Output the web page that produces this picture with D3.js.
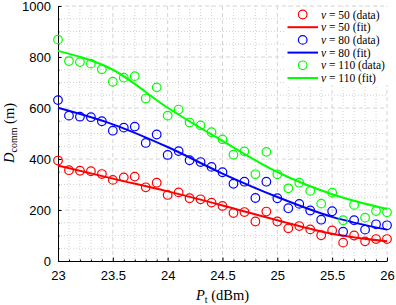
<!DOCTYPE html>
<html>
<head>
<meta charset="utf-8">
<script src="https://cdn.jsdelivr.net/npm/d3@7"></script>
<style>
  body { margin: 0; background: #fff; }
  svg { display: block; }
  .tick text { font-family: "Liberation Sans", Arial, sans-serif; font-size: 13px; fill: #000; }
  .domain { stroke: #000; stroke-width: 1; }
  .tick line { stroke: #000; }
  .lbl { font-family: "Liberation Serif", "DejaVu Serif", serif; fill: #000; }
</style>
</head>
<body>
<svg id="chart" width="396" height="305"></svg>
<script>
// measured powers (dBm)
const ptData = [23, 23.1, 23.2, 23.3, 23.4, 23.5, 23.6, 23.7, 23.8, 23.9, 24, 24.1, 24.2, 24.3, 24.4,
  24.5, 24.6, 24.7, 24.8, 24.9, 25, 25.1, 25.2, 25.3, 25.4, 25.5, 25.6, 25.7, 25.8, 25.9, 26];
const d50 = [394, 356, 354, 352, 341, 318, 328, 331, 289, 307, 259, 269, 246, 242, 229,
  216, 188, 192, 155, 194, 155, 128, 137, 124, 101, 120, 72, 100, 77, 86, 86];
const d80 = [631, 570, 566, 564, 548, 511, 523, 527, 463, 496, 416, 431, 395, 388, 369,
  348, 303, 311, 247, 311, 246, 207, 224, 198, 162, 195, 115, 160, 123, 144, 140];
const d110 = [868, 784, 780, 774, 752, 703, 719, 725, 637, 681, 570, 594, 543, 532, 505,
  477, 417, 430, 340, 428, 340, 285, 307, 275, 225, 268, 160, 220, 170, 196, 191];
// fitted curves
const ptFit = [23, 23.5, 24, 24.5, 25, 25.5, 26];
const fit50 = [374, 323, 273, 218, 160, 107, 77];
const fit80 = [601, 536, 447, 343, 251, 173, 123];
const fit110 = [824, 750, 601, 471, 349, 262, 204];

const xTicks = [23, 23.5, 24, 24.5, 25, 25.5, 26];
const yTicks = [0, 200, 400, 600, 800, 1000];

const series = [
  { v: 50, data: d50, fit: fit50, color: "#ff0000" },
  { v: 80, data: d80, fit: fit80, color: "#0000ff" },
  { v: 110, data: d110, fit: fit110, color: "#00ff00" }
];

const W = 396, H = 305;
const m = { left: 58, top: 6, right: 9, bottom: 44 };
const w = W - m.left - m.right, h = H - m.top - m.bottom;

const svg = d3.select("#chart");
const g = svg.append("g").attr("transform", `translate(${m.left},${m.top})`);

const x = d3.scaleLinear().domain([23, 26]).range([0, w]);
const y = d3.scaleLinear().domain([0, 1000]).range([h, 0]);

// minor grid
const minorX = d3.range(23, 26.001, 0.1).filter(v => Math.abs(v * 2 - Math.round(v * 2)) > 0.01);
const minorY = d3.range(0, 1001, 50).filter(v => v % 200 !== 0);
g.append("g").selectAll("line").data(minorX).join("line")
  .attr("x1", d => x(d)).attr("x2", d => x(d)).attr("y1", 0).attr("y2", h)
  .attr("stroke", "#c8c8c8").attr("stroke-width", 0.8).attr("stroke-dasharray", "1,2");
g.append("g").selectAll("line").data(minorY).join("line")
  .attr("y1", d => y(d)).attr("y2", d => y(d)).attr("x1", 0).attr("x2", w)
  .attr("stroke", "#c8c8c8").attr("stroke-width", 0.8).attr("stroke-dasharray", "1,2");
// major grid
g.append("g").selectAll("line").data(xTicks.slice(1)).join("line")
  .attr("x1", d => x(d)).attr("x2", d => x(d)).attr("y1", 0).attr("y2", h)
  .attr("stroke", "#d4d4d4").attr("stroke-width", 1).attr("stroke-dasharray", "4,3");
g.append("g").selectAll("line").data(yTicks.slice(1)).join("line")
  .attr("y1", d => y(d)).attr("y2", d => y(d)).attr("x1", 0).attr("x2", w)
  .attr("stroke", "#d4d4d4").attr("stroke-width", 1).attr("stroke-dasharray", "4,3");

// minor ticks
g.append("g").attr("transform", `translate(0,${h})`)
  .call(d3.axisBottom(x).tickValues(minorX).tickSizeInner(-1.5).tickSizeOuter(0).tickFormat(""))
  .call(a => a.select(".domain").remove())
  .selectAll(".tick line").attr("stroke", "#999");
g.append("g")
  .call(d3.axisLeft(y).tickValues(minorY).tickSizeInner(-1.5).tickSizeOuter(0).tickFormat(""))
  .call(a => a.select(".domain").remove())
  .selectAll(".tick line").attr("stroke", "#999");

// axes
g.append("g").attr("transform", `translate(0,${h})`)
  .call(d3.axisBottom(x).tickValues(xTicks).tickSizeInner(-3.5).tickSizeOuter(0).tickPadding(10)
    .tickFormat(d3.format("")));
g.append("g")
  .call(d3.axisLeft(y).tickValues(yTicks).tickSizeInner(-3.5).tickSizeOuter(0).tickPadding(7)
    .tickFormat(d3.format("d")));

// fits and data
const line = d3.line().x((d, i) => x(ptFit[i])).y(d => y(d)).curve(d3.curveMonotoneX);
series.forEach(s => {
  g.append("path").datum(s.fit).attr("d", line)
    .attr("fill", "none").attr("stroke", s.color).attr("stroke-width", 2);
  g.append("g").selectAll("circle").data(s.data).join("circle")
    .attr("cx", (d, i) => x(ptData[i])).attr("cy", d => y(d)).attr("r", 4.3)
    .attr("fill", "none").attr("stroke", s.color).attr("stroke-width", 1.2);
});

// legend
const lg = svg.append("g");
lg.append("rect").attr("x", 284).attr("y", 7).attr("width", 104).attr("height", 78).attr("fill", "#fff");
const rows = [];
series.forEach(s => {
  rows.push({ kind: "data", s });
  rows.push({ kind: "fit", s });
});
rows.forEach((r, i) => {
  const yy = 14.5 + i * 12.7;
  if (r.kind === "data") {
    lg.append("circle").attr("cx", 302.7).attr("cy", yy).attr("r", 4.3)
      .attr("fill", "none").attr("stroke", r.s.color).attr("stroke-width", 1.2);
  } else {
    lg.append("line").attr("x1", 287.5).attr("x2", 318).attr("y1", yy).attr("y2", yy)
      .attr("stroke", r.s.color).attr("stroke-width", 2);
  }
  const t = lg.append("text").attr("class", "lbl").attr("x", 321).attr("y", yy + 4)
    .attr("font-size", 11.5);
  t.append("tspan").attr("font-style", "italic").text("v");
  t.append("tspan").text(` = ${r.s.v} (${r.kind})`);
});

// axis labels
const xl = svg.append("text").attr("class", "lbl").attr("x", m.left + w / 2).attr("y", 300)
  .attr("text-anchor", "middle").attr("font-size", 14.5);
xl.append("tspan").attr("font-style", "italic").text("P");
xl.append("tspan").attr("font-size", 10).attr("dy", 3).text("t");
xl.append("tspan").attr("dy", -3).text(" (dBm)");

const yl = svg.append("text").attr("class", "lbl")
  .attr("transform", "translate(14,133) rotate(-90)")
  .attr("text-anchor", "middle").attr("font-size", 14.5);
yl.append("tspan").attr("font-style", "italic").text("D");
yl.append("tspan").attr("font-size", 10).attr("dy", 3).text("comm");
yl.append("tspan").attr("dy", -3).text(" (m)");
</script>
</body>
</html>
